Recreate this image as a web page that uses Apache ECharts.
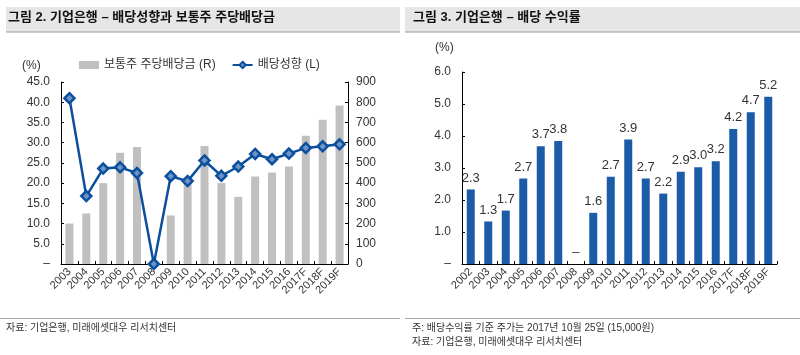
<!DOCTYPE html>
<html><head><meta charset="utf-8">
<script src="https://cdn.jsdelivr.net/npm/echarts@6/dist/echarts.min.js"></script>
<style>html,body{margin:0;padding:0;background:#fff}#c{width:800px;height:355px}</style>
</head><body><div id="c"></div>
<script>
var FONT = '"Liberation Sans", "Noto Sans CJK KR", sans-serif';
var years1 = ['2003','2004','2005','2006','2007','2008','2009','2010','2011','2012','2013','2014','2015','2016','2017F','2018F','2019F'];
var dps = [200,250,400,550,578,0,240,400,583,400,332,433,452,482,634,713,784];
var payout = [41.0,16.8,23.6,23.9,22.5,0,21.7,20.5,25.6,21.8,24.1,27.2,25.9,27.3,28.7,29.1,29.6];
var years2 = ['2002','2003','2004','2005','2006','2007','2008','2009','2010','2011','2012','2013','2014','2015','2016','2017F','2018F','2019F'];
var yieldv = [2.33,1.33,1.67,2.67,3.68,3.84,0,1.60,2.73,3.89,2.67,2.20,2.88,3.02,3.21,4.22,4.74,5.23];
var title1 = '그림 2. 기업은행 – 배당성향과 보통주 주당배당금';
var title2 = '그림 3. 기업은행 – 배당 수익률';
var src = '자료: 기업은행, 미래에셋대우 리서치센터';
var note2 = '주: 배당수익률 기준 주가는 2017년 10월 25일 (15,000원)';

var txt = '#333';
var chart = echarts.init(document.getElementById('c'), null, {renderer:'canvas'});
function xAxisBase(data, gi){
  return {type:'category', gridIndex:gi, data:data, boundaryGap:true,
    axisLine:{lineStyle:{color:'#000',width:1}},
    axisTick:{show:true, inside:true, length:3, lineStyle:{color:'#000'}, alignWithLabel:false},
    axisLabel:{rotate:45, fontSize:11, color:txt, fontFamily:FONT, margin:6, interval:0}};
}
chart.setOption({
  animation:false,
  textStyle:{fontFamily:FONT},
  graphic:[
    {type:'rect', shape:{x:6,y:7,width:394,height:25}, style:{fill:'#e6e6e6'}},
    {type:'line', shape:{x1:6,y1:32,x2:400,y2:32}, style:{stroke:'#9a9a9a',lineWidth:1}},
    {type:'text', left:8, top:11, style:{text:title1, font:'bold 13px '+FONT, fill:'#111'}},
    {type:'rect', shape:{x:405,y:7,width:395,height:25}, style:{fill:'#e6e6e6'}},
    {type:'line', shape:{x1:405,y1:32,x2:800,y2:32}, style:{stroke:'#9a9a9a',lineWidth:1}},
    {type:'text', left:413, top:11, style:{text:title2, font:'bold 13px '+FONT, fill:'#111'}},
    {type:'text', left:22, top:60, style:{text:'(%)', font:'12px '+FONT, fill:txt}},
    {type:'text', left:435, top:42, style:{text:'(%)', font:'12px '+FONT, fill:txt}},
    {type:'line', shape:{x1:0,y1:318.5,x2:400,y2:318.5}, style:{stroke:'#aaa',lineWidth:1}},
    {type:'line', shape:{x1:405,y1:318.5,x2:800,y2:318.5}, style:{stroke:'#aaa',lineWidth:1}},
    {type:'text', left:6, top:323, style:{text:src, font:'10px '+FONT, fill:txt}},
    {type:'text', left:412, top:323, style:{text:note2, font:'10px '+FONT, fill:txt}},
    {type:'text', left:412, top:337, style:{text:src, font:'10px '+FONT, fill:txt}}
  ],
  legend:{left:74, top:54, itemGap:16, itemWidth:20, itemHeight:8,
    textStyle:{fontSize:12, color:txt, fontFamily:FONT},
    data:[{name:'보통주 주당배당금 (R)', icon:'rect'}, {name:'배당성향 (L)'}]},
  grid:[
    {left:61, right:452, top:82, bottom:91},
    {left:462, right:23, top:72, bottom:91}
  ],
  xAxis:[xAxisBase(years1,0), xAxisBase(years2,1)],
  yAxis:[
    {type:'value', gridIndex:0, min:0, max:45, interval:5, position:'left',
      axisLine:{show:true, lineStyle:{color:'#000'}}, axisTick:{show:true, inside:true, length:3, lineStyle:{color:'#000'}},
      splitLine:{show:false},
      axisLabel:{fontSize:12, color:txt, margin:11, formatter:function(v){return v===0?'–':v.toFixed(1);}}},
    {type:'value', gridIndex:0, min:0, max:900, interval:100, position:'right',
      axisLine:{show:true, lineStyle:{color:'#000'}}, axisTick:{show:true, inside:true, length:3, lineStyle:{color:'#000'}},
      splitLine:{show:false},
      axisLabel:{fontSize:12, color:txt, margin:8}},
    {type:'value', gridIndex:1, min:0, max:6, interval:1,
      axisLine:{show:true, lineStyle:{color:'#000'}}, axisTick:{show:true, inside:true, length:3, lineStyle:{color:'#000'}},
      splitLine:{show:false},
      axisLabel:{fontSize:12, color:txt, margin:11, formatter:function(v){return v===0?'–':v.toFixed(1);}}}
  ],
  series:[
    {name:'보통주 주당배당금 (R)', type:'bar', xAxisIndex:0, yAxisIndex:1, data:dps, barWidth:8,
      itemStyle:{color:'#c0c0c0'}},
    {name:'배당성향 (L)', type:'line', xAxisIndex:0, yAxisIndex:0, data:payout, z:5,
      symbol:'diamond', symbolSize:10,
      lineStyle:{color:'#0b4f9e', width:2.5},
      itemStyle:{color:'#6f93c6', borderColor:'#0b4f9e', borderWidth:2.5}},
    {name:'배당 수익률', type:'bar', xAxisIndex:1, yAxisIndex:2, data:yieldv, barWidth:8,
      itemStyle:{color:'#1b5ba8'},
      label:{show:true, position:'top', distance:5, fontSize:13, color:txt, fontFamily:FONT,
        formatter:function(p){return p.value===0?'–':p.value.toFixed(1);}}}
  ]
});
</script></body></html>
